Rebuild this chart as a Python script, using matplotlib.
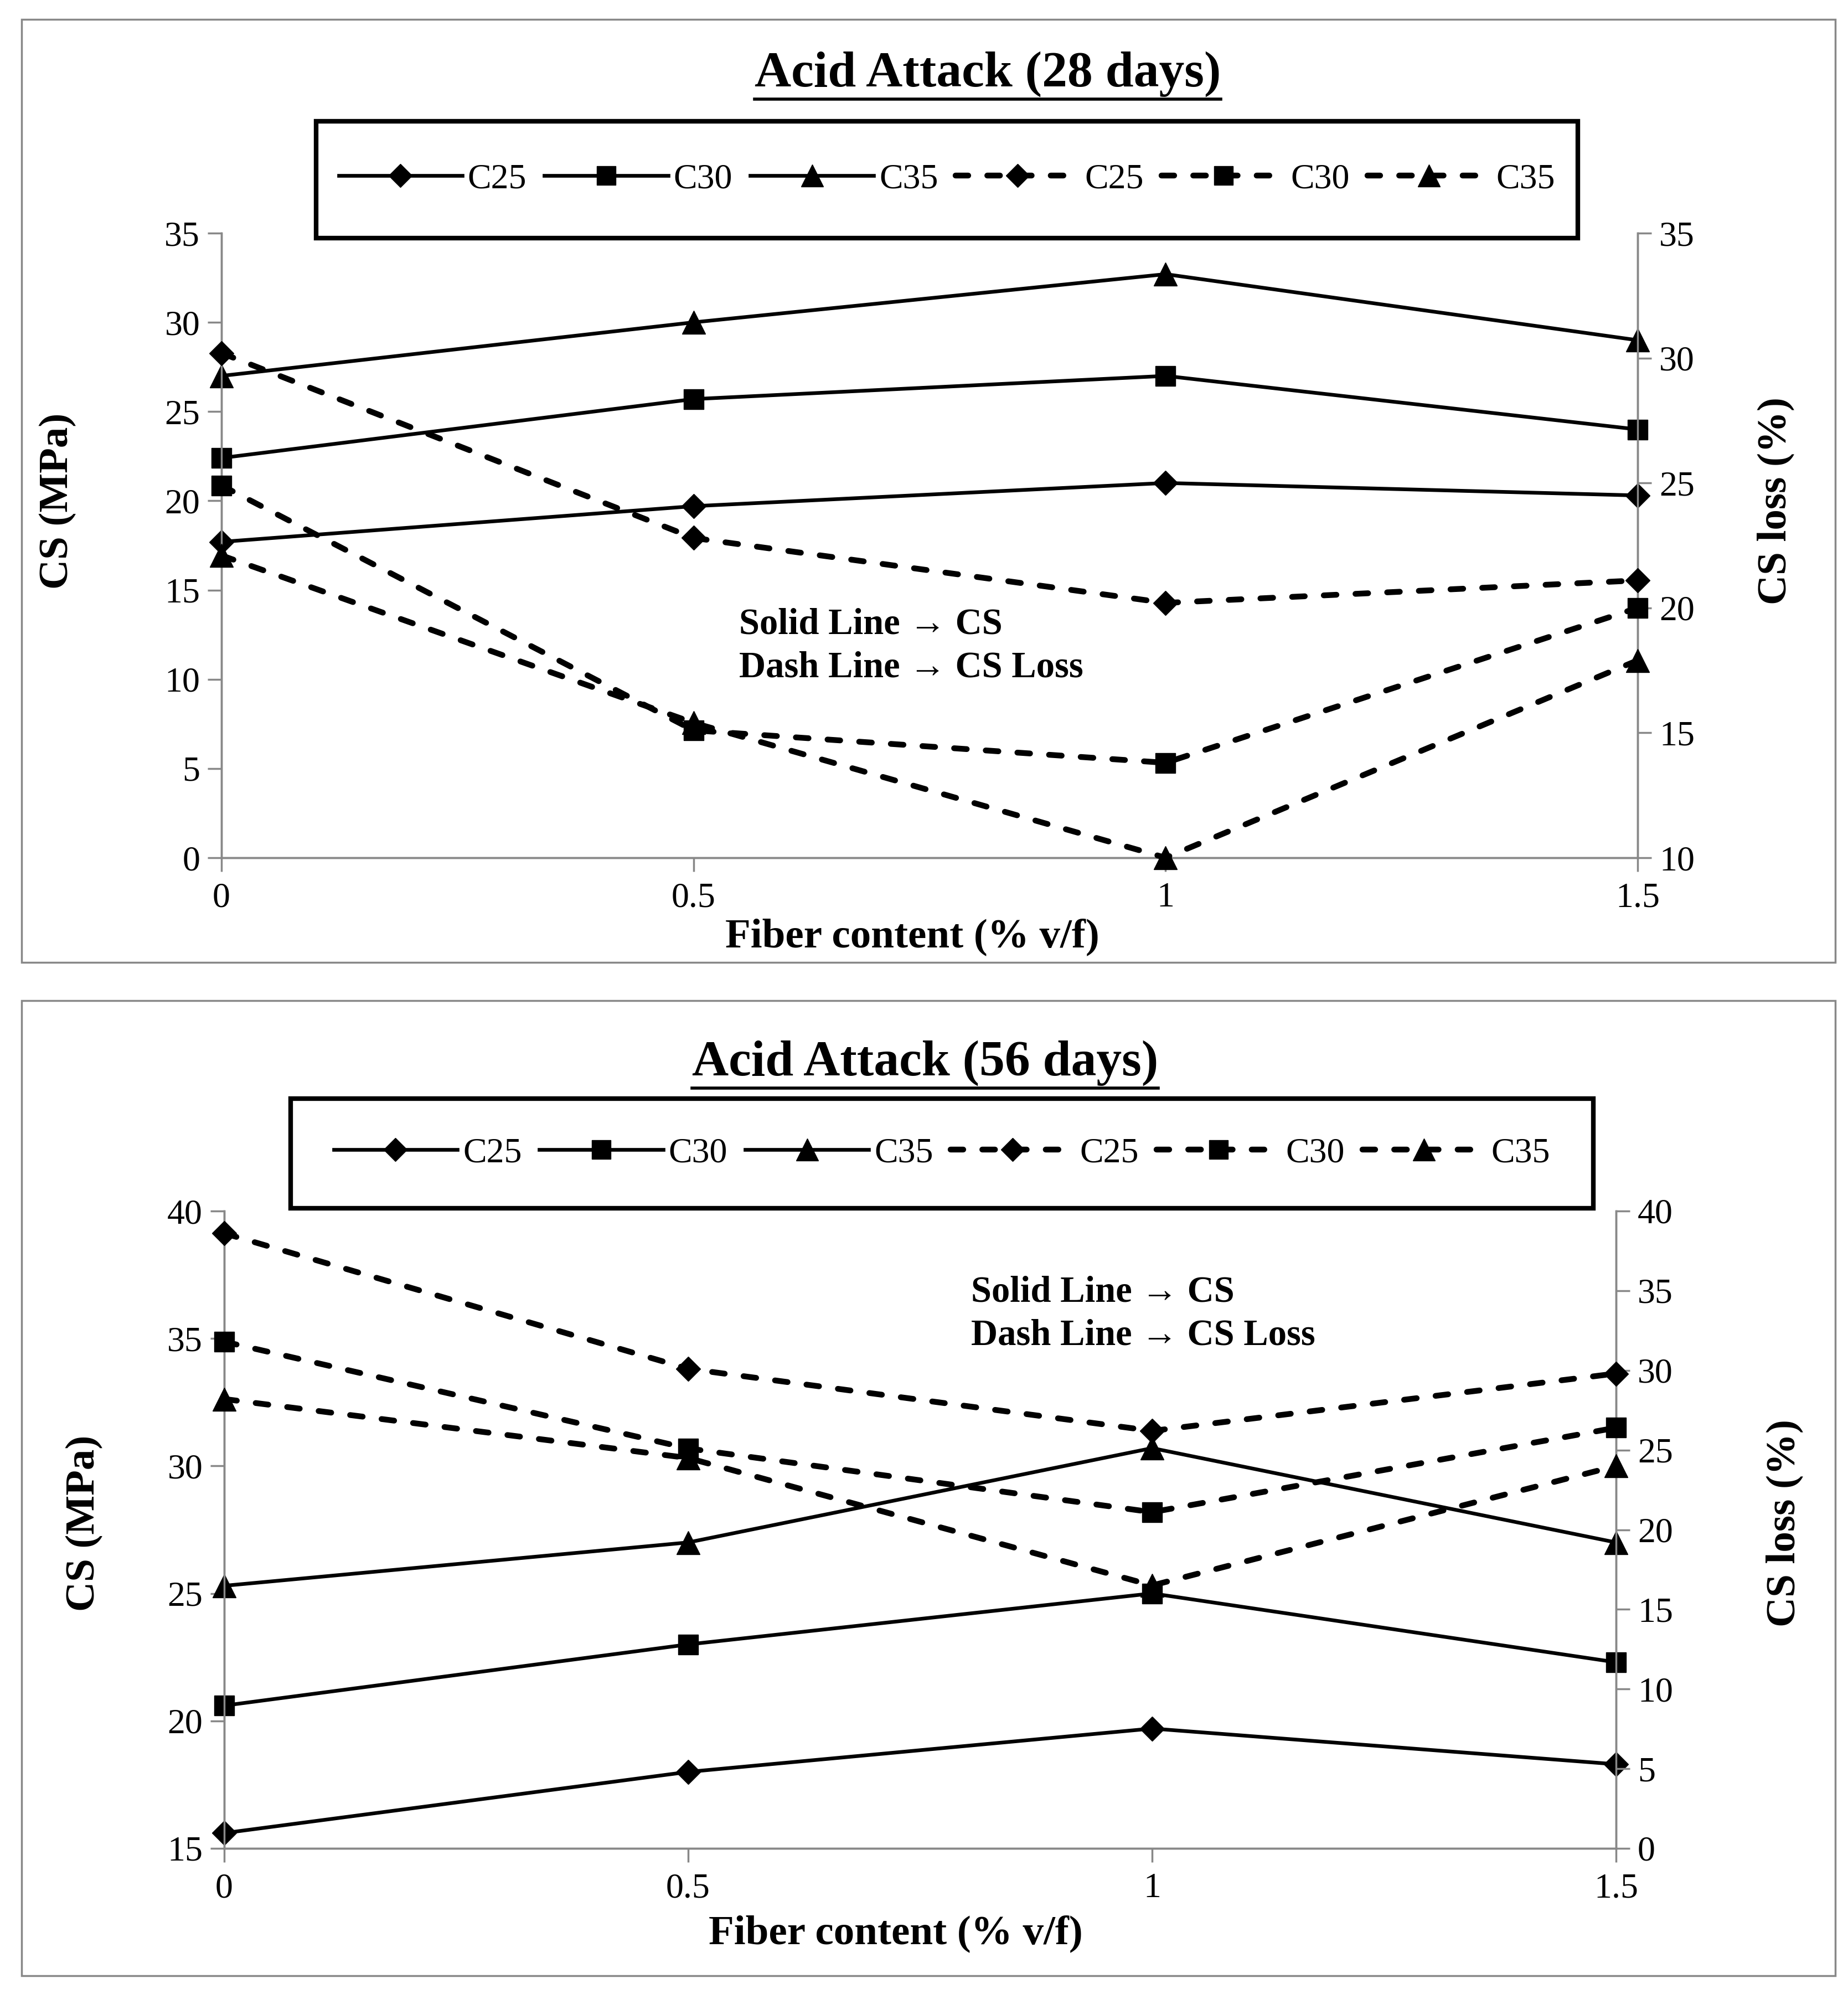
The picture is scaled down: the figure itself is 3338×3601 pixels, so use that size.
import matplotlib
matplotlib.use("Agg")
import matplotlib.pyplot as plt
from matplotlib.patches import Rectangle
from matplotlib.lines import Line2D

plt.rcParams['font.family'] = ['Liberation Serif', 'DejaVu Serif']

W, H = 3338, 3601
fiber = [0, 0.5, 1, 1.5]
xticklabels = ['0', '0.5', '1', '1.5']
series_names = ['C25', 'C30', 'C35']

# 28 days
cs28 = {'C25': [17.7, 19.7, 21.0, 20.3],
        'C30': [22.4, 25.7, 27.0, 24.0],
        'C35': [27.0, 30.0, 32.7, 29.0]}
loss28 = {'C25': [30.2, 22.8, 20.2, 21.1],
          'C30': [24.9, 15.1, 13.8, 20.0],
          'C35': [22.1, 15.4, 10.0, 17.9]}
# 56 days
cs56 = {'C25': [15.6, 18.0, 19.7, 18.3],
        'C30': [20.6, 23.0, 25.0, 22.3],
        'C35': [25.3, 27.0, 30.7, 27.0]}
loss56 = {'C25': [38.6, 30.1, 26.2, 29.8],
          'C30': [31.8, 25.1, 21.1, 26.4],
          'C35': [28.2, 24.5, 16.5, 24.0]}

markers = {'C25': 'D', 'C30': 's', 'C35': '^'}
msize = {'C25': 22, 'C30': 26, 'C35': 30}

fig = plt.figure(figsize=(W / 100, H / 100), dpi=100)

def fx(px):
    return px / W

def fy(py):
    return 1 - py / H

TICK_FS = 46
LAB_FS = 54
GRAY = '#888888'

def panel(frame, axrect, title, title_xy, cs, loss, lylim, lyticks, rylim, ryticks,
          leg_box, ylab_l, ylab_r, xlab, note_xy):
    x0, y0, x1, y1 = frame
    fig.patches.append(Rectangle((fx(x0), fy(y1)), fx(x1 - x0), (y1 - y0) / H,
                                 transform=fig.transFigure, fill=False,
                                 edgecolor=GRAY, linewidth=2.5))
    ax = fig.add_axes(axrect)
    ax2 = ax.twinx()
    handles = []
    for name in series_names:
        h, = ax.plot(fiber, cs[name], color='black', linewidth=4.8,
                     marker=markers[name], markersize=msize[name], clip_on=False,
                     zorder=5)
        handles.append(h)
    for name in series_names:
        h, = ax2.plot(fiber, loss[name], color='black', linewidth=7.5,
                      linestyle=(0, (2.2, 3.3)), dash_capstyle='round',
                      marker=markers[name], markersize=msize[name], clip_on=False,
                      zorder=5)
        handles.append(h)
    ax.set_xlim(0, 1.5)
    ax.set_ylim(*lylim)
    ax.set_yticks(lyticks)
    ax2.set_ylim(*rylim)
    ax2.set_yticks(ryticks)
    ax.set_xticks(fiber)
    ax.set_xticklabels(xticklabels)
    for a in (ax, ax2):
        a.spines['top'].set_visible(False)
        for s in ('left', 'right', 'bottom'):
            a.spines[s].set_color(GRAY)
            a.spines[s].set_linewidth(2.5)
        a.tick_params(axis='both', labelsize=TICK_FS, length=18, width=2.5,
                      color=GRAY, direction='out', pad=10)
    ax.tick_params(axis='x', pad=14)
    ax.patch.set_visible(False)
    bx0, by0, bx1, by1 = leg_box
    fig.patches.append(Rectangle((fx(bx0), fy(by1)), fx(bx1 - bx0), (by1 - by0) / H,
                                 transform=fig.transFigure, fill=False,
                                 edgecolor='black', linewidth=6))
    fig.legend(handles, series_names + series_names, loc='center',
               bbox_to_anchor=(fx((bx0 + bx1) / 2), fy((by0 + by1) / 2)),
               ncol=6, frameon=False, fontsize=TICK_FS, handlelength=3.5,
               handletextpad=0.15, columnspacing=0.5, markerscale=0.95)
    t = fig.text(fx(title_xy[0]), fy(title_xy[1]), title, ha='center', va='center',
                 fontsize=66, fontweight='bold')
    fig.text(fx(ylab_l[0]), fy(ylab_l[1]), 'CS (MPa)', rotation=90, ha='center',
             va='center', fontsize=LAB_FS, fontweight='bold')
    fig.text(fx(ylab_r[0]), fy(ylab_r[1]), 'CS loss (%)', rotation=90, ha='center',
             va='center', fontsize=LAB_FS, fontweight='bold')
    fig.text(fx(xlab[0]), fy(xlab[1]), 'Fiber content (% v/f)', ha='center',
             va='center', fontsize=LAB_FS, fontweight='bold')
    fig.text(fx(note_xy[0]), fy(note_xy[1]), 'Solid Line \u2192 CS', ha='left',
             va='center', fontsize=48, fontweight='bold')
    fig.text(fx(note_xy[0]), fy(note_xy[1] + 78), 'Dash Line \u2192 CS Loss', ha='left',
             va='center', fontsize=48, fontweight='bold')
    return t

titles = []
titles.append(panel((39, 35, 3315, 1738),
                    [fx(400), fy(1549), fx(2958 - 400), (1549 - 421) / H],
                    'Acid Attack (28 days)', (1784, 134), cs28, loss28,
                    (0, 35), [0, 5, 10, 15, 20, 25, 30, 35],
                    (10, 35), [10, 15, 20, 25, 30, 35],
                    (571, 219, 2850, 430), (104, 905), (3207, 905), (1648, 1692),
                    (1335, 1128)))
titles.append(panel((39, 1807, 3315, 3568),
                    [fx(405), fy(3338), fx(2919 - 405), (3338 - 2187) / H],
                    'Acid Attack (56 days)', (1671, 1920), cs56, loss56,
                    (15, 40), [15, 20, 25, 30, 35, 40],
                    (0, 40), [0, 5, 10, 15, 20, 25, 30, 35, 40],
                    (525, 1984, 2878, 2182), (152, 2751), (3223, 2751), (1618, 3492),
                    (1754, 2334)))

fig.canvas.draw()
r = fig.canvas.get_renderer()
for t in titles:
    bb = t.get_window_extent(renderer=r)
    yline = (bb.y0 - 4) / fig.bbox.height
    fig.add_artist(Line2D([bb.x0 / fig.bbox.width, bb.x1 / fig.bbox.width],
                          [yline, yline], transform=fig.transFigure,
                          color='black', linewidth=4))

fig.savefig('out.png', dpi=100)
